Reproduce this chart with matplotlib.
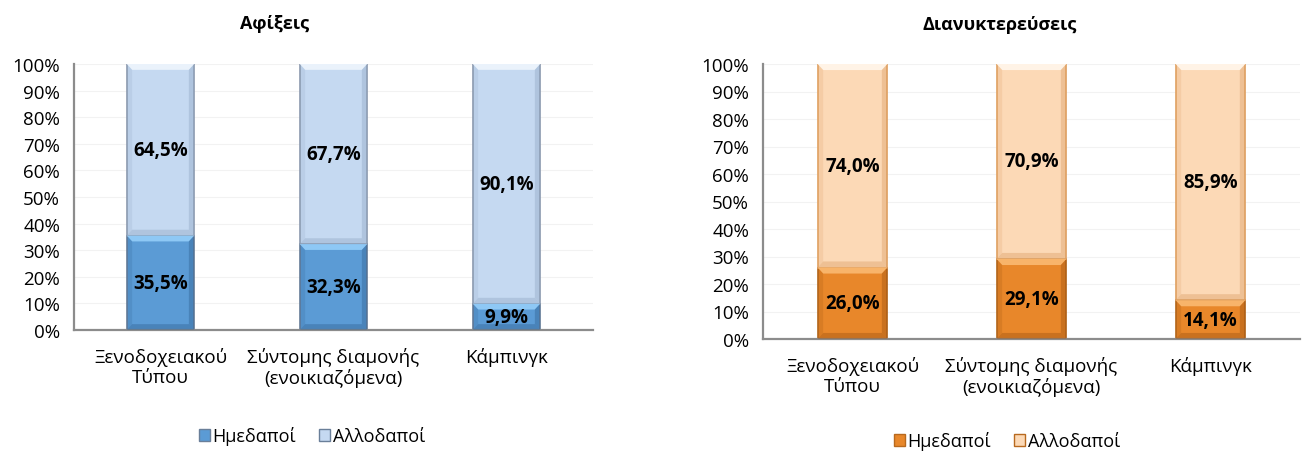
import numpy as np
import matplotlib
matplotlib.use("Agg")
import matplotlib.pyplot as plt
from matplotlib.patches import Polygon

plt.rcParams['font.family'] = ['Open Sans', 'DejaVu Sans']

categories = ['Ξενοδοχειακού\nΤύπου', 'Σύντομης διαμονής\n(ενοικιαζόμενα)', 'Κάμπινγκ']
series_names = ['Ημεδαποί', 'Αλλοδαποί']

arrivals_domestic = [35.5, 32.3, 9.9]
arrivals_foreign = [64.5, 67.7, 90.1]

nights_domestic = [26.0, 29.1, 14.1]
nights_foreign = [74.0, 70.9, 85.9]

W, H = 1304, 452
fig = plt.figure(figsize=(W / 100, H / 100), dpi=100)


def px_axes(x0, y0, x1, y1):
    # pixel box (top-left origin) -> figure fraction
    return fig.add_axes([x0 / W, 1 - y1 / H, (x1 - x0) / W, (y1 - y0) / H])


def bevel(ax, x, bottom, height, width, light, dark):
    # rough imitation of excel's bevel: light top, darker bottom and sides
    bx = width * 0.08
    by = min(2.2, height * 0.3)
    l, r = x - width / 2, x + width / 2
    t, b = bottom + height, bottom
    ax.add_patch(Polygon([[l, t], [r, t], [r - bx, t - by], [l + bx, t - by]],
                         closed=True, facecolor=light, edgecolor='none', zorder=3))
    ax.add_patch(Polygon([[l, b], [r, b], [r - bx, b + by], [l + bx, b + by]],
                         closed=True, facecolor=dark, edgecolor='none', zorder=3, alpha=0.4))
    ax.add_patch(Polygon([[l, b], [l + bx, b + by], [l + bx, t - by], [l, t]],
                         closed=True, facecolor=dark, edgecolor='none', zorder=3, alpha=0.2))
    ax.add_patch(Polygon([[r, b], [r - bx, b + by], [r - bx, t - by], [r, t]],
                         closed=True, facecolor=dark, edgecolor='none', zorder=3, alpha=0.4))


def draw(ax, dom, forn, cols, edges, lights, darks):
    x = np.arange(len(categories))
    w = 0.39
    ax.bar(x, dom, w, color=cols[0], edgecolor=edges[0], linewidth=1.2, zorder=2)
    ax.bar(x, forn, w, bottom=dom, color=cols[1], edgecolor=edges[1], linewidth=1.2, zorder=2)
    for i in range(len(x)):
        bevel(ax, x[i], 0, dom[i], w, lights[0], darks[0])
        bevel(ax, x[i], dom[i], forn[i], w, lights[1], darks[1])
        ax.text(x[i], dom[i] / 2, f'{dom[i]:.1f}%'.replace('.', ','), ha='center', va='center',
                fontsize=13.5, fontweight='bold', zorder=4)
        ax.text(x[i], dom[i] + forn[i] / 2, f'{forn[i]:.1f}%'.replace('.', ','), ha='center',
                va='center', fontsize=13.5, fontweight='bold', zorder=4)
    ax.set_xlim(-0.5, 2.5)
    ax.set_ylim(0, 100)
    ax.set_yticks(np.arange(0, 101, 10))
    ax.set_yticklabels([f'{v}%' for v in range(0, 101, 10)], fontsize=13.5)
    ax.set_xticks(x)
    ax.set_xticklabels(categories, fontsize=13.5, linespacing=1.15)
    ax.tick_params(length=0)
    ax.tick_params(axis='y', pad=10)
    ax.tick_params(axis='x', pad=12)
    ax.grid(axis='y', color='#F2F2F2', linewidth=0.8, zorder=0)
    ax.set_axisbelow(True)
    for s in ['top', 'right']:
        ax.spines[s].set_visible(False)
    for s in ['left', 'bottom']:
        ax.spines[s].set_color('#8C8C8C')
        ax.spines[s].set_linewidth(1.6)
    handles = [plt.Rectangle((0, 0), 1, 1, facecolor=cols[0], edgecolor=edges[0]),
               plt.Rectangle((0, 0), 1, 1, facecolor=cols[1], edgecolor=edges[0])]
    return handles


ax1 = px_axes(74, 65, 593, 331)
h1 = draw(ax1, arrivals_domestic, arrivals_foreign,
          ['#5B9BD5', '#C5D9F1'], ['#6A7F99', '#8C9AAE'],
          ['#8EC8F5', '#EAF2FB'], ['#2F5F90', '#8FA6C2'])
fig.text(275 / W, 1 - 24 / H, 'Αφίξεις', ha='center', va='center', fontsize=13, fontweight='bold')
fig.legend(h1, series_names, loc='center', bbox_to_anchor=(312 / W, 1 - 437 / H), ncol=2,
           frameon=False, fontsize=13, handlelength=0.6, handleheight=0.6, handletextpad=0.15,
           columnspacing=1.3)

ax2 = px_axes(763, 65, 1300, 340)
h2 = draw(ax2, nights_domestic, nights_foreign,
          ['#E8872A', '#FCD9B6'], ['#B8691E', '#E2A263'],
          ['#F8B46A', '#FFF3E6'], ['#9C5210', '#D99C62'])
fig.text(1000 / W, 1 - 25 / H, 'Διανυκτερεύσεις', ha='center', va='center', fontsize=13,
         fontweight='bold')
fig.legend(h2, series_names, loc='center', bbox_to_anchor=(1007 / W, 1 - 442 / H), ncol=2,
           frameon=False, fontsize=13, handlelength=0.6, handleheight=0.6, handletextpad=0.15,
           columnspacing=1.3)

fig.savefig('out.png', dpi=100)
